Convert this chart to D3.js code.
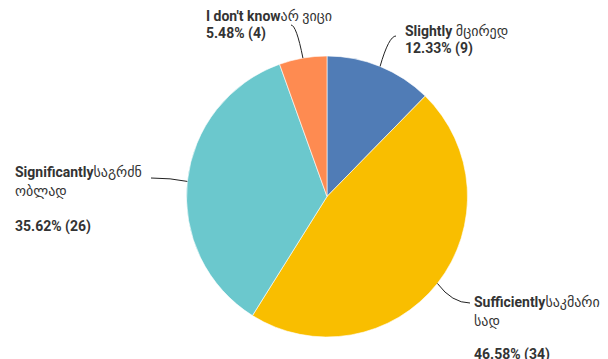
<!DOCTYPE html>
<html>
<head>
<meta charset="utf-8">
<script src="https://cdn.jsdelivr.net/npm/d3@7"></script>
<style>
  body { margin: 0; background: #fff; }
  text { font-family: Roboto, "DejaVu Sans", sans-serif; font-size: 14px; fill: #333; }
</style>
</head>
<body>
<div id="chart"></div>
<script>
// answer categories (english + georgian) and counts
var categories = ["Slightly", "Sufficiently", "Significantly", "I don't know"];
var georgian = ["მცირედ", "საკმარისად", "საგრძნობლად", "არ ვიცი"];
var counts = [9, 34, 26, 4];
var percents = ["12.33%", "46.58%", "35.62%", "5.48%"];
var colors = ["#507cb6", "#f9be00", "#6bc8cd", "#fe8b51"];

var width = 608, height = 359;
var cx = 327, cy = 196.5, radius = 140.5;

// where each label sits, and how its text is broken into lines
var labelLayout = [
    { x: 405, y: 36, anchorX: 396, anchorY: 36, lines: [["Slightly ", "მცირედ"]], gap: 17 },
    { x: 474, y: 307, anchorX: 470, anchorY: 303, lines: [["Sufficiently", "საკმარი"], ["", "სად"]], gap: 33 },
    { x: 15, y: 177, anchorX: 151, anchorY: 178, lines: [["Significantly", "საგრძნ"], ["", "ობლად"]], gap: 35 },
    { x: 206, y: 21, anchorX: 291, anchorY: 25, lines: [["I don't know", "არ ვიცი"]], gap: 17 }
];

var data = categories.map(function(c, i) {
    return { name: c, ka: georgian[i], value: counts[i], pct: percents[i], color: colors[i], layout: labelLayout[i] };
});

var svg = d3.select("#chart").append("svg")
    .attr("width", width)
    .attr("height", height);

var pie = d3.pie().sort(null).value(function(d) { return d.value; });
var arc = d3.arc().innerRadius(0).outerRadius(radius);

var g = svg.append("g").attr("transform", "translate(" + cx + "," + cy + ")");

var arcs = pie(data);

g.selectAll("path.slice")
    .data(arcs)
    .enter()
    .append("path")
    .attr("class", "slice")
    .attr("d", arc)
    .attr("fill", function(d) { return d.data.color; })
    .attr("stroke", "#fff")
    .attr("stroke-width", 0.6);

// leader lines: from the rim at mid-angle, bending towards the label
svg.selectAll("path.leader")
    .data(arcs)
    .enter()
    .append("path")
    .attr("class", "leader")
    .attr("fill", "none")
    .attr("stroke", "#222")
    .attr("stroke-width", 1)
    .attr("d", function(d) {
        var a = (d.startAngle + d.endAngle) / 2;
        var x0 = cx + radius * Math.sin(a);
        var y0 = cy - radius * Math.cos(a);
        var x1 = d.data.layout.anchorX, y1 = d.data.layout.anchorY;
        var c1;
        // pull control point so the line bends near the label end
        if (Math.abs(x1 - x0) < Math.abs(y1 - y0)) {
            c1 = [x0 + (x1 - x0) * 0.55, y1];
        } else {
            c1 = [x0 + (x1 - x0) * 0.45, y1];
        }
        return "M" + x0 + "," + y0 + "Q" + c1[0] + "," + c1[1] + " " + x1 + "," + y1;
    });

var labels = svg.selectAll("g.label")
    .data(data)
    .enter()
    .append("g")
    .attr("class", "label");

labels.each(function(d) {
    var lg = d3.select(this);
    var L = d.layout;
    L.lines.forEach(function(line, i) {
        var t = lg.append("text")
            .attr("x", L.x)
            .attr("y", L.y + i * 19);
        if (line[0]) t.append("tspan").attr("font-weight", "bold").text(line[0]);
        t.append("tspan").text(line[1]);
    });
    lg.append("text")
        .attr("x", L.x)
        .attr("y", L.y + (L.lines.length - 1) * 19 + L.gap)
        .attr("font-weight", "bold")
        .text(d.pct + " (" + d.value + ")");
});
</script>
</body>
</html>
